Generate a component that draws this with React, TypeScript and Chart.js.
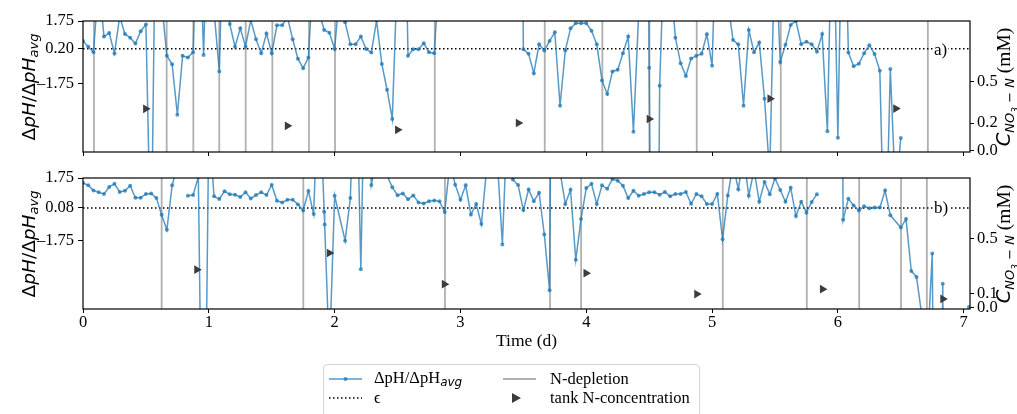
import React, { useEffect, useRef } from 'react';
import { Chart, registerables } from 'chart.js';
Chart.register(...registerables);

// ---------- axis ranges and ticks ----------
const X_MIN = 0;
const X_MAX = 7.05;
const Y_MIN = -5.55;
const Y_MAX = 1.75;
const C_MIN = -0.01;
const C_MAX = 0.94;
const X_TICKS = [0, 1, 2, 3, 4, 5, 6, 7];
const TOP_LEFT_TICKS = [1.75, 0.2, -1.75];
const TOP_RIGHT_TICKS = [0.0, 0.2, 0.5];
const BOT_LEFT_TICKS = [1.75, 0.08, -1.75];
const BOT_RIGHT_TICKS = [0.0, 0.1, 0.5];
const TOP_EPS = 0.2;
const BOT_EPS = 0.08;

// ---------- ΔpH/ΔpH_avg, one value per hour (null = gap, undefined = no sample) ----------
const TOP_DPH: (number | null | undefined)[] = [
  0.64, 0.32, 0.01, 4.0, 0.88, 1.08, -0.06, 2.0, 1.03, 0.82,
  0.49, 1.18, 1.55, -12, 12, 2.8, -0.18, -0.66, -3.47, -0.19,
  -0.29, 0.01, 9.5, -0.14, 10, 2.3, -1.06, 10, 1.58, 0.32,
  1.34, 0.32, 1.8, 0.73, -0.05, 1.06, -0.05, 1.51, 1.51, 1.95,
  0.73, -0.36, -0.88, -0.29, 4.9, 2.3, 1.25, 1.1, 0.19, 3.5,
  1.68, 0.45, 0.45, 0.88, 0.19, -0.01, 1.78, -0.64, -2.08, -3.71,
  4.8, 15, -0.18, 0.18, 0.18, 0.51, 0.01, -0.05, 4.7, null,
  null, null, null, null, null, null, null, null, null, null,
  null, null, null, 40, 0.18, -0.08, -1.16, 0.45, 0.1, 0.64,
  1.12, -2.97, 0.1, 1.34, 1.62, 1.62, 1.62, 1.21, 0.45, -1.56,
  -2.32, -1.06, -0.97, -0.05, 0.88, -4.42, 2.2, 40, -0.86, -40,
  -1.86, 7, 4.5, 0.82, -0.61, -1.31, -0.34, -0.19, -0.08, 1.01,
  -0.74, 9, 6, 2.8, 0.69, 0.45, -2.97, 1.25, 0.01, 0.55,
  -2.58, -6.8, 6.5, -0.53, 0.42, 1.53, 1.75, 0.46, 0.6, 0.45,
  0.04, 1.02, -4.4, 10, -4.75, 12, -0.01, -0.77, -0.63, -0.05,
  0.4, -0.09, -1.02, -13, -0.93, -8, -4.77,
];
const TOP_EXTRA_HOURS: number[] = [];
const TOP_EXTRA_DPH: number[] = [];

const BOT_DPH: (number | null | undefined)[] = [
  1.47, 1.34, 1.06, 0.95, 0.86, 1.25, 1.43, 0.97, 1.04, 1.32,
  0.65, 0.65, 0.86, 0.89, 0.63, -0.3, -1.14, 1.34, 2.4, null,
  0.76, 0.8, 1.8, -21, 4.8, 0.73, 0.58, 1.01, 0.84, 0.82,
  0.69, 0.95, 0.61, 0.8, 0.95, 0.8, 1.36, 0.48, 0.39, 0.54,
  0.54, 0.28, -0.06, 1.02, -0.26, 8, -0.13, -8.2, 0.76, undefined,
  -1.74, 0.63, 10, -3.33, 12, 1.36, 2.8, 3.5, 1.9, 1.23,
  0.79, 0.89, 0.56, 0.78, 0.39, 0.33, 0.45, 0.5, 0.45, -0.15,
  2.6, 1.38, 0.54, 1.34, -0.29, 0.3, -0.82, 2.3, 4, 2.9,
  -1.96, 5.5, 1.66, 1.36, -0.04, 1.11, 0.46, 0.93, -1.4, -4.51,
  40, 2.1, 0.3, 1.1, -2.81, -0.54, 1.19, 1.43, 0.3, 1.34,
  1.15, 1.69, 1.6, 1.32, 0.63, 1.04, 0.76, 0.86, 0.95, 0.95,
  0.82, 0.97, 0.73, 0.86, 0.86, 0.97, 0.31, 0.86, 0.73, 0.3,
  0.3, 0.86, -1.66, 0.78, 2.5, 1.13, 3, 0.76, 2.2, 0.43,
  1.53, 0.85, 1.74, 1.08, 0.43, 1.21, -0.37, 0.43, -0.18, 0.41,
  0.85, null, null, null, 40, -0.58, 0.6, 0.22, -0.06, 0.17,
  0.07, 0.11, 0.1, 1.05, -0.33, undefined, -1.01, -0.54, -3.43, -3.76,
  -5.9, -8.3, -2.46, -40, -4.14, -40, null, null, null, -5.44,
];
const BOT_EXTRA_HOURS = [46.1];
const BOT_EXTRA_DPH = [-0.84];

// ---------- N-depletion times (d) ----------
const TOP_DEPLETION = [0.087, 0.665, 0.877, 1.083, 1.293, 1.505, 1.796, 2.003, 2.796, 3.67, 4.128, 4.502, 4.878, 5.546, 6.715];
const BOT_DEPLETION = [0.625, 1.751, 2.877, 3.712, 3.959, 5.085, 5.753, 6.169, 6.502, 6.707];

// ---------- tank N-concentration (d, mM) ----------
const TOP_TANK_T = [0.498, 1.624, 2.5, 3.46, 4.5, 5.46, 6.46];
const TOP_TANK_C = [0.303, 0.18, 0.151, 0.2, 0.229, 0.377, 0.305];
const BOT_TANK_T = [0.904, 1.958, 2.872, 3.998, 4.878, 5.877, 6.834];
const BOT_TANK_C = [0.275, 0.396, 0.17, 0.25, 0.098, 0.134, 0.063];

const SERIF = "'Liberation Serif', 'DejaVu Serif', serif";
const SANS = "'DejaVu Sans', sans-serif";
const BLUE = 'rgba(31,119,180,0.75)';
const GREY = 'rgba(128,128,128,0.62)';
const TRI = '#3c3c3c';
// U+2212 does not show up in canvas text here; the en dash is the closest visible glyph.
const MINUS = '\u2013';
const TICK_SIZE = 16.5;

const fmt = (v: number, d: number) => (v < -1e-9 ? MINUS : '') + Math.abs(v).toFixed(d);

const framePlugin = {
  id: 'frame',
  afterDatasetsDraw(chart: any) {
    const { ctx, chartArea: a } = chart;
    ctx.save();
    ctx.strokeStyle = '#000';
    ctx.lineWidth = 1.2;
    ctx.strokeRect(a.left, a.top, a.right - a.left, a.bottom - a.top);
    ctx.restore();
  },
};

type PanelProps = {
  top: number;
  height: number;
  padTop: number;
  xAxisHeight: number;
  dph: (number | null | undefined)[];
  extraH: number[];
  extraV: number[];
  depletion: number[];
  tankT: number[];
  tankC: number[];
  eps: number;
  leftTicks: number[];
  rightTicks: number[];
  showX: boolean;
};

function Panel(p: PanelProps) {
  const ref = useRef<HTMLCanvasElement>(null);
  useEffect(() => {
    const pts: { x: number; y: number | null }[] = [];
    p.dph.forEach((v, i) => {
      if (v !== undefined) pts.push({ x: i / 24, y: v });
    });
    p.extraH.forEach((h, k) => pts.push({ x: h / 24, y: p.extraV[k] }));
    pts.sort((a, b) => a.x - b.x);
    const dep: { x: number; y: number | null }[] = [];
    p.depletion.forEach((t) => {
      dep.push({ x: t, y: Y_MIN }, { x: t, y: Y_MAX }, { x: t, y: null });
    });
    const tank = p.tankT.map((t, k) => ({ x: t, y: p.tankC[k] }));
    const tickFont = { family: SERIF, size: TICK_SIZE };
    const chart = new Chart(ref.current as HTMLCanvasElement, {
      type: 'line',
      data: {
        datasets: [
          {
            label: 'tank',
            data: tank,
            yAxisID: 'y2',
            showLine: false,
            pointStyle: 'triangle',
            rotation: 90,
            pointRadius: 5,
            pointBorderWidth: 0,
            backgroundColor: TRI,
            borderColor: TRI,
            order: 0,
          } as any,
          {
            label: 'dph',
            data: pts,
            yAxisID: 'y',
            borderColor: BLUE,
            backgroundColor: BLUE,
            pointBackgroundColor: BLUE,
            borderWidth: 1.5,
            pointRadius: 2,
            pointBorderWidth: 0,
            spanGaps: false,
            clip: 0,
            order: 1,
          } as any,
          {
            label: 'eps',
            data: [
              { x: X_MIN, y: p.eps },
              { x: X_MAX, y: p.eps },
            ],
            yAxisID: 'y',
            borderColor: '#000',
            borderWidth: 1.5,
            borderDash: [1.5, 2.5],
            pointRadius: 0,
            order: 2,
          } as any,
          {
            label: 'dep',
            data: dep,
            yAxisID: 'y',
            borderColor: GREY,
            borderWidth: 1.8,
            pointRadius: 0,
            spanGaps: false,
            clip: 0,
            order: 3,
          } as any,
        ],
      },
      options: {
        animation: false,
        responsive: false,
        devicePixelRatio: 1,
        events: [],
        layout: { padding: { top: p.padTop, left: 0, right: 0, bottom: 0 } },
        plugins: { legend: { display: false }, tooltip: { enabled: false } },
        scales: {
          x: {
            type: 'linear',
            min: X_MIN,
            max: X_MAX,
            afterBuildTicks: (s: any) => {
              s.ticks = X_TICKS.map((v) => ({ value: v }));
            },
            afterTickToLabelConversion: (s: any) => {
              s.ticks.forEach((t: any) => {
                t.label = String(t.value);
              });
            },
            ticks: {
              display: p.showX,
              font: tickFont,
              color: '#000',
              padding: 0,
              maxRotation: 0,
              autoSkip: false,
            },
            grid: { drawOnChartArea: false, drawTicks: true, tickLength: 4, color: '#000', lineWidth: 1 },
            border: { display: false },
            title: p.showX
              ? { display: true, text: 'Time (d)', font: { family: SERIF, size: 17.5 }, color: '#000', padding: { top: 0, bottom: 8 } }
              : { display: false },
            afterFit: (s: any) => {
              s.height = p.xAxisHeight;
            },
          },
          y: {
            type: 'linear',
            position: 'left',
            min: Y_MIN,
            max: Y_MAX,
            afterBuildTicks: (s: any) => {
              s.ticks = p.leftTicks.map((v) => ({ value: v }));
            },
            afterTickToLabelConversion: (s: any) => {
              s.ticks.forEach((t: any) => {
                t.label = fmt(t.value, 2);
              });
            },
            ticks: { font: tickFont, color: '#000', padding: 4 },
            grid: { drawOnChartArea: false, drawTicks: true, tickLength: 5, color: '#000', lineWidth: 1 },
            border: { display: false },
            afterFit: (s: any) => {
              s.width = 83;
            },
          },
          y2: {
            type: 'linear',
            position: 'right',
            min: C_MIN,
            max: C_MAX,
            afterBuildTicks: (s: any) => {
              s.ticks = p.rightTicks.map((v) => ({ value: v }));
            },
            afterTickToLabelConversion: (s: any) => {
              s.ticks.forEach((t: any) => {
                t.label = fmt(t.value, 1);
              });
            },
            ticks: { font: tickFont, color: '#000', padding: 3 },
            grid: { drawOnChartArea: false, drawTicks: true, tickLength: 4, color: '#000', lineWidth: 1 },
            border: { display: false },
            afterFit: (s: any) => {
              s.width = 47;
            },
          },
        },
      } as any,
      plugins: [framePlugin],
    });
    return () => chart.destroy();
  }, []);
  return (
    <canvas
      ref={ref}
      width={1017}
      height={p.height}
      style={{ position: 'absolute', left: 0, top: p.top, width: 1017, height: p.height }}
    />
  );
}

const rot = (cx: number, cy: number): React.CSSProperties => ({
  position: 'absolute',
  left: cx,
  top: cy,
  transform: 'translate(-50%, -50%) rotate(-90deg)',
  whiteSpace: 'nowrap',
  lineHeight: 1,
  color: '#000',
});

function LeftTitle({ cy }: { cy: number }) {
  return (
    <div style={{ ...rot(30, cy), fontFamily: SANS, fontSize: 18.5 }}>
      Δ<i>pH</i>/Δ<i>pH</i>
      <sub style={{ fontSize: 13, fontStyle: 'italic', verticalAlign: '-0.25em' }}>avg</sub>
    </div>
  );
}

function RightTitle({ cy }: { cy: number }) {
  return (
    <div style={{ ...rot(1007, cy), fontFamily: SERIF, fontSize: 19.5 }}>
      <i style={{ fontFamily: SANS }}>C</i>
      <sub style={{ fontFamily: SANS, fontStyle: 'italic', fontSize: 13, verticalAlign: '-0.3em' }}>
        NO<sub style={{ fontSize: 9 }}>3</sub> − N
      </sub>{' '}
      (mM)
    </div>
  );
}

function PanelLabel({ text, cy }: { text: string; cy: number }) {
  return (
    <div
      style={{
        position: 'absolute',
        left: 933,
        top: cy,
        transform: 'translateY(-50%)',
        fontFamily: SERIF,
        fontSize: 17,
        lineHeight: 1,
        background: '#fff',
        padding: '0 1px',
        color: '#000',
      }}
    >
      {text}
    </div>
  );
}

function Legend() {
  const txt: React.CSSProperties = {
    position: 'absolute',
    fontFamily: SERIF,
    fontSize: 16.5,
    lineHeight: 1,
    transform: 'translateY(-50%)',
    whiteSpace: 'nowrap',
    color: '#000',
  };
  return (
    <div style={{ position: 'absolute', left: 0, top: 0, width: 1017, height: 414, pointerEvents: 'none' }}>
      <div
        style={{
          position: 'absolute',
          left: 323,
          top: 364,
          width: 377,
          height: 60,
          border: '1px solid #d5d5d5',
          borderRadius: 4,
          background: '#fff',
          boxSizing: 'border-box',
        }}
      />
      <svg style={{ position: 'absolute', left: 0, top: 0 }} width={1017} height={414}>
        <line x1={329} y1={379} x2={362} y2={379} stroke={BLUE} strokeWidth={1.5} />
        <circle cx={345.5} cy={379} r={2} fill={BLUE} />
        <line x1={503} y1={379} x2={536} y2={379} stroke={GREY} strokeWidth={1.8} />
        <line x1={329} y1={398} x2={362} y2={398} stroke="#000" strokeWidth={1.5} strokeDasharray="1.5 2.5" />
        <polygon points="512,393 521,398 512,403" fill={TRI} />
      </svg>
      <div style={{ ...txt, left: 374, top: 379 }}>
        ΔpH/ΔpH
        <sub style={{ fontFamily: SANS, fontStyle: 'italic', fontSize: 12, verticalAlign: '-0.25em' }}>avg</sub>
      </div>
      <div style={{ ...txt, left: 550, top: 379 }}>N-depletion</div>
      <div style={{ ...txt, left: 374, top: 398 }}>ϵ</div>
      <div style={{ ...txt, left: 550, top: 398 }}>tank N-concentration</div>
    </div>
  );
}

export default function App() {
  return (
    <div
      style={{
        position: 'absolute',
        left: 0,
        top: 0,
        width: 1017,
        height: 414,
        overflow: 'hidden',
        background: '#fff',
      }}
    >
      <Panel
        top={0}
        height={170}
        padTop={21}
        xAxisHeight={18}
        dph={TOP_DPH}
        extraH={TOP_EXTRA_HOURS}
        extraV={TOP_EXTRA_DPH}
        depletion={TOP_DEPLETION}
        tankT={TOP_TANK_T}
        tankC={TOP_TANK_C}
        eps={TOP_EPS}
        leftTicks={TOP_LEFT_TICKS}
        rightTicks={TOP_RIGHT_TICKS}
        showX={false}
      />
      <Panel
        top={160}
        height={200}
        padTop={18}
        xAxisHeight={51}
        dph={BOT_DPH}
        extraH={BOT_EXTRA_HOURS}
        extraV={BOT_EXTRA_DPH}
        depletion={BOT_DEPLETION}
        tankT={BOT_TANK_T}
        tankC={BOT_TANK_C}
        eps={BOT_EPS}
        leftTicks={BOT_LEFT_TICKS}
        rightTicks={BOT_RIGHT_TICKS}
        showX={true}
      />
      <LeftTitle cy={86.5} />
      <LeftTitle cy={243.5} />
      <RightTitle cy={86.5} />
      <RightTitle cy={243.5} />
      <PanelLabel text="a)" cy={49} />
      <PanelLabel text="b)" cy={207} />
      <Legend />
    </div>
  );
}
